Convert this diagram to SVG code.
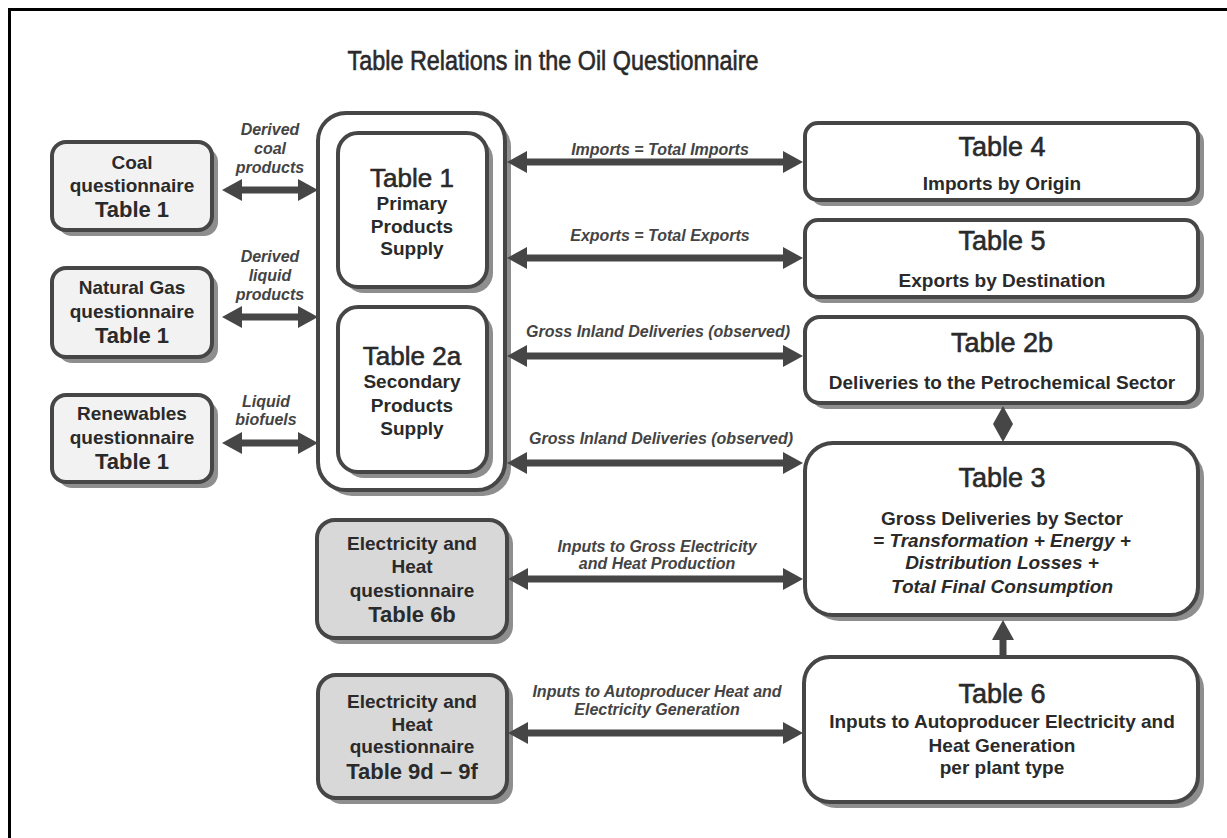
<svg xmlns="http://www.w3.org/2000/svg" width="1227" height="838" viewBox="0 0 1227 838">
<style>
text{font-family:"Liberation Sans",Arial,sans-serif;fill:#2a2a2a;text-anchor:middle}
.box{stroke:#464646;stroke-width:4}
.sh{fill:#8e8e8e;stroke:none}
.w{fill:#ffffff}
.lg{fill:#f2f2f2}
.dg{fill:#d8d8d8}
.nb{font-weight:bold;font-size:19px}
.tb{font-weight:bold;font-size:22px}
.tt{font-size:26px;stroke:#2a2a2a;stroke-width:0.6}
.tr{font-size:27px;stroke:#2a2a2a;stroke-width:0.6}
.sub{font-weight:bold;font-size:19px}
.subi{font-weight:bold;font-style:italic;font-size:19px}
.lab{font-weight:bold;font-style:italic;font-size:16px;fill:#444}
.ar{stroke:#464646;stroke-width:7;fill:none;marker-start:url(#ah);marker-end:url(#ah)}
</style>
<defs>
<marker id="ah" viewBox="0 0 20 22" refX="2" refY="11" markerWidth="20" markerHeight="22" markerUnits="userSpaceOnUse" orient="auto-start-reverse">
<path d="M0,0 L20,11 L0,22 Z" fill="#464646"/>
</marker>
<marker id="ah1" viewBox="0 0 20 22" refX="2" refY="11" markerWidth="20" markerHeight="22" markerUnits="userSpaceOnUse" orient="auto">
<path d="M0,0 L20,11 L0,22 Z" fill="#464646"/>
</marker>
</defs>
<rect width="1227" height="838" fill="#ffffff"/>
<path d="M9.5,838 V9.5 H1227" fill="none" stroke="#000" stroke-width="3"/>
<text x="553" y="70" class="tt" textLength="411" lengthAdjust="spacingAndGlyphs" style="font-size:27px">Table Relations in the Oil Questionnaire</text>

<g id="coal">
<rect class="sh" x="58" y="148" width="160" height="88" rx="14"/>
<rect class="box lg" x="52" y="142" width="160" height="88" rx="14"/>
<text x="132" y="169" class="nb">Coal</text>
<text x="132" y="192" class="nb">questionnaire</text>
<text x="132" y="217" class="tb">Table 1</text>
</g>
<g id="natgas">
<rect class="sh" x="58" y="274" width="160" height="89" rx="14"/>
<rect class="box lg" x="52" y="268" width="160" height="89" rx="14"/>
<text x="132" y="294" class="nb">Natural Gas</text>
<text x="132" y="318" class="nb">questionnaire</text>
<text x="132" y="343" class="tb">Table 1</text>
</g>
<g id="renew">
<rect class="sh" x="58" y="401" width="160" height="87" rx="14"/>
<rect class="box lg" x="52" y="395" width="160" height="87" rx="14"/>
<text x="132" y="420" class="nb">Renewables</text>
<text x="132" y="444" class="nb">questionnaire</text>
<text x="132" y="469" class="tb">Table 1</text>
</g>

<g id="supply">
<rect class="sh" x="324" y="119" width="187" height="377" rx="28"/>
<rect class="box w" x="318" y="113" width="187" height="377" rx="28"/>
<g id="table1">
<rect class="sh" x="344" y="139" width="149" height="154" rx="20"/>
<rect class="box w" x="338" y="133" width="149" height="154" rx="20"/>
<text x="412" y="187" class="tt">Table 1</text>
<text x="412" y="210" class="sub">Primary</text>
<text x="412" y="233" class="sub">Products</text>
<text x="412" y="255" class="sub">Supply</text>
</g>
<g id="table2a">
<rect class="sh" x="344" y="313" width="149" height="165" rx="20"/>
<rect class="box w" x="338" y="307" width="149" height="165" rx="20"/>
<text x="412" y="365" class="tt">Table 2a</text>
<text x="412" y="388" class="sub">Secondary</text>
<text x="412" y="412" class="sub">Products</text>
<text x="412" y="435" class="sub">Supply</text>
</g>
</g>

<g id="elec6b">
<rect class="sh" x="323" y="526" width="190" height="118" rx="18"/>
<rect class="box dg" x="317" y="520" width="190" height="118" rx="18"/>
<text x="412" y="550" class="nb">Electricity and</text>
<text x="412" y="573" class="nb">Heat</text>
<text x="412" y="597" class="nb">questionnaire</text>
<text x="412" y="622" class="tb">Table 6b</text>
</g>
<g id="elec9d">
<rect class="sh" x="324" y="681" width="189" height="123" rx="18"/>
<rect class="box dg" x="318" y="675" width="189" height="123" rx="18"/>
<text x="412" y="708" class="nb">Electricity and</text>
<text x="412" y="731" class="nb">Heat</text>
<text x="412" y="753" class="nb">questionnaire</text>
<text x="412" y="779" class="tb">Table 9d – 9f</text>
</g>

<g id="table4">
<rect class="sh" x="811" y="129" width="393" height="77" rx="13"/>
<rect class="box w" x="805" y="123" width="393" height="77" rx="13"/>
<text x="1002" y="156" class="tr">Table 4</text>
<text x="1002" y="190" class="sub">Imports by Origin</text>
</g>
<g id="table5">
<rect class="sh" x="811" y="226" width="393" height="77" rx="13"/>
<rect class="box w" x="805" y="220" width="393" height="77" rx="13"/>
<text x="1002" y="250" class="tr">Table 5</text>
<text x="1002" y="287" class="sub">Exports by Destination</text>
</g>
<g id="table2b">
<rect class="sh" x="811" y="323" width="393" height="86" rx="15"/>
<rect class="box w" x="805" y="317" width="393" height="86" rx="15"/>
<text x="1002" y="352" class="tr">Table 2b</text>
<text x="1002" y="389" class="sub">Deliveries to the Petrochemical Sector</text>
</g>
<g id="table3">
<rect class="sh" x="811" y="449" width="393" height="172" rx="28"/>
<rect class="box w" x="805" y="443" width="393" height="172" rx="28"/>
<text x="1002" y="487" class="tr">Table 3</text>
<text x="1002" y="525" class="sub">Gross Deliveries by Sector</text>
<text x="1002" y="547" class="subi">= Transformation + Energy +</text>
<text x="1002" y="569" class="subi">Distribution Losses +</text>
<text x="1002" y="593" class="subi">Total Final Consumption</text>
</g>
<g id="table6">
<rect class="sh" x="810" y="663" width="394" height="145" rx="26"/>
<rect class="box w" x="804" y="657" width="394" height="145" rx="26"/>
<text x="1002" y="703" class="tr">Table 6</text>
<text x="1002" y="728" class="sub">Inputs to Autoproducer Electricity and</text>
<text x="1002" y="752" class="sub">Heat Generation</text>
<text x="1002" y="774" class="sub">per plant type</text>
</g>

<g id="connectors">
<line class="ar" x1="240" y1="190" x2="300" y2="190"/>
<line class="ar" x1="240" y1="317" x2="300" y2="317"/>
<line class="ar" x1="240" y1="443" x2="300" y2="443"/>
<line class="ar" x1="525" y1="162" x2="785" y2="162"/>
<line class="ar" x1="525" y1="258" x2="785" y2="258"/>
<line class="ar" x1="525" y1="356" x2="785" y2="356"/>
<line class="ar" x1="525" y1="463" x2="785" y2="463"/>
<line class="ar" x1="526" y1="579" x2="785" y2="579"/>
<line class="ar" x1="526" y1="733" x2="785" y2="733"/>
<line x1="1003" y1="657" x2="1003" y2="638" stroke="#464646" stroke-width="7" marker-end="url(#ah1)"/>
<polygon points="1003,406 1013,424 1003,442 993,424" fill="#464646"/>
<text x="270" y="135" class="lab">Derived</text>
<text x="270" y="154" class="lab">coal</text>
<text x="270" y="173" class="lab">products</text>
<text x="270" y="262" class="lab">Derived</text>
<text x="270" y="281" class="lab">liquid</text>
<text x="270" y="300" class="lab">products</text>
<text x="266" y="407" class="lab">Liquid</text>
<text x="266" y="425" class="lab">biofuels</text>
<text x="660" y="155" class="lab">Imports = Total Imports</text>
<text x="660" y="241" class="lab">Exports = Total Exports</text>
<text x="658" y="337" class="lab">Gross Inland Deliveries (observed)</text>
<text x="661" y="444" class="lab">Gross Inland Deliveries (observed)</text>
<text x="657" y="552" class="lab">Inputs to Gross Electricity</text>
<text x="657" y="569" class="lab">and Heat Production</text>
<text x="657" y="697" class="lab">Inputs to Autoproducer Heat and</text>
<text x="657" y="715" class="lab">Electricity Generation</text>
</g>
</svg>
